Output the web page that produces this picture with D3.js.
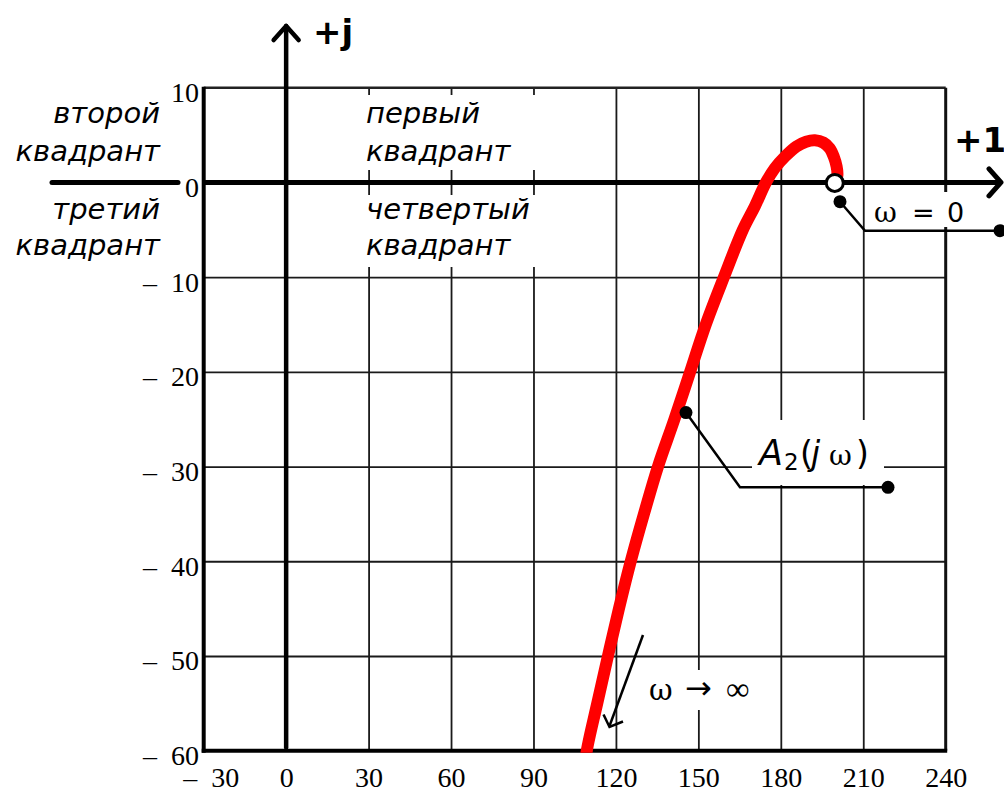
<!DOCTYPE html>
<html><head><meta charset="utf-8">
<script src="https://cdn.jsdelivr.net/npm/d3@7"></script>
<style>
body{margin:0;background:#fff;}
svg{display:block;}
</style></head><body>
<svg id="c" width="1004" height="794"></svg>
<script>
// ---- data ----
const xTicks = [-30, 0, 30, 60, 90, 120, 150, 180, 210, 240];
const xTickLabels = ["\u2013\u200230", "0", "30", "60", "90", "120", "150", "180", "210", "240"];
const yTicks = [10, 0, -10, -20, -30, -40, -50, -60];
const yTickLabels = ["10", "0", "\u2013\u200210", "\u2013\u200220", "\u2013\u200230", "\u2013\u200240", "\u2013\u200250", "\u2013\u200260"];
// hodograph A2(jw): real part, imaginary part
const curveRe = [200, 200.6, 200.3, 199.3, 197.8, 195.5, 192.4, 189.2, 185.7, 181.6, 177.8, 174.6, 170.6, 166.2, 159.3, 152.7, 147.0, 141.3, 135.3, 130.2, 125.4, 121.1, 117.1, 113.2, 109.4, 108.6];
const curveIm = [0, 0.8, 1.7, 2.7, 3.6, 4.2, 4.45, 4.3, 3.8, 2.75, 1.5, 0, -2.5, -5, -10, -15, -20, -25, -30, -35, -40, -45, -50, -55, -60, -62];
const quadLeft = [["второй", "квадрант"], ["третий", "квадрант"]];
const quadRight = [["первый", "квадрант"], ["четвертый", "квадрант"]];
const markerW0 = [200, 0];        // w = 0 point
const markerA2 = [145.5, -24.3];  // leader point on curve

// ---- layout ----
const svg = d3.select("#c");
const x = d3.scaleLinear().domain([-30, 240]).range([203.7, 945.7]);
const y = d3.scaleLinear().domain([-60, 10]).range([750.7, 87.7]);
const serif = "'Liberation Serif','Times New Roman',serif";
const sans = "'DejaVu Sans',Verdana,sans-serif";
const greek = "'DejaVu Serif','Liberation Serif',serif";

// grid via axes
const gridX = d3.axisBottom(x).tickValues(xTicks.filter(d => d > 0 && d < 240))
  .tickSize(-(y(-60) - y(10))).tickFormat("");
svg.append("g").attr("transform", `translate(0,${y(-60)})`).call(gridX)
  .call(g => g.select(".domain").remove())
  .selectAll("line").attr("stroke", "#1a1a1a").attr("stroke-width", 1.8);
const gridY = d3.axisLeft(y).tickValues(yTicks.filter(d => d < 0 && d > -60))
  .tickSize(-(x(240) - x(-30))).tickFormat("");
svg.append("g").attr("transform", `translate(${x(-30)},0)`).call(gridY)
  .call(g => g.select(".domain").remove())
  .selectAll("line").attr("stroke", "#1a1a1a").attr("stroke-width", 1.8);

// borders
svg.append("line").attr("x1", x(-30)).attr("x2", x(240)).attr("y1", y(10)).attr("y2", y(10)).attr("stroke", "#222").attr("stroke-width", 2.5);
svg.append("line").attr("x1", x(240)).attr("x2", x(240)).attr("y1", y(10)).attr("y2", y(-60)).attr("stroke", "#111").attr("stroke-width", 3);
svg.append("line").attr("x1", x(-30)).attr("x2", x(-30)).attr("y1", y(10) - 1).attr("y2", y(-60) + 2).attr("stroke", "#000").attr("stroke-width", 4);
svg.append("line").attr("x1", x(-30) - 2).attr("x2", x(240) + 1.5).attr("y1", y(-60)).attr("y2", y(-60)).attr("stroke", "#000").attr("stroke-width", 4);

// white label backgrounds
const boxes = [[360, 95, 185, 75], [360, 195, 185, 72], [752, 420, 132, 65], [868, 192, 106, 35], [645, 670, 112, 40]];
svg.selectAll("rect.bg").data(boxes).join("rect").attr("class", "bg")
  .attr("x", d => d[0]).attr("y", d => d[1]).attr("width", d => d[2]).attr("height", d => d[3]).attr("fill", "#fff");

// tick labels via axes
const axX = d3.axisBottom(x).tickValues(xTicks).tickSize(0).tickFormat((d, i) => xTickLabels[i]);
svg.append("g").attr("transform", `translate(0,${y(-60)})`).call(axX)
  .call(g => g.select(".domain").remove())
  .selectAll("text").attr("y", 36.5).attr("dy", 0)
  .attr("dx", d => d < 0 ? 7 : 0)
  .attr("font-family", serif).attr("font-size", 28).attr("fill", "#000");
const axY = d3.axisLeft(y).tickValues(yTicks).tickSize(0).tickFormat((d, i) => yTickLabels[i]);
svg.append("g").attr("transform", `translate(199,0)`).call(axY)
  .call(g => g.select(".domain").remove())
  .selectAll("text").attr("x", 0).attr("dy", 14)
  .attr("font-family", serif).attr("font-size", 28).attr("fill", "#000");

// main axes (+1 and +j)
svg.append("line").attr("x1", 52).attr("x2", 178).attr("y1", y(0)).attr("y2", y(0)).attr("stroke", "#000").attr("stroke-width", 5).attr("stroke-linecap", "round");
svg.append("line").attr("x1", x(-30)).attr("x2", 1001).attr("y1", y(0)).attr("y2", y(0)).attr("stroke", "#000").attr("stroke-width", 5);
svg.append("path").attr("d", `M989,${y(0) - 13.5}L1001,${y(0)}L989,${y(0) + 13.5}`).attr("fill", "none").attr("stroke", "#000").attr("stroke-width", 5).attr("stroke-linecap", "round").attr("stroke-linejoin", "round");
svg.append("line").attr("x1", x(0)).attr("x2", x(0)).attr("y1", y(-60) - 3).attr("y2", 26).attr("stroke", "#000").attr("stroke-width", 4.5).attr("stroke-linecap", "round");
svg.append("path").attr("d", `M${x(0) - 12.5},40L${x(0)},26L${x(0) + 12.5},40`).attr("fill", "none").attr("stroke", "#000").attr("stroke-width", 4.5).attr("stroke-linecap", "round").attr("stroke-linejoin", "round");
svg.append("text").attr("x", 313).attr("y", 44).attr("font-family", sans).attr("font-weight", "bold").attr("font-size", 34).text("+j");
svg.append("text").attr("x", 954).attr("y", 152).attr("font-family", sans).attr("font-weight", "bold").attr("font-size", 34).text("+1");

// quadrant labels
const qBase = [[123, 161], [219, 255]];
quadLeft.forEach((lines, i) => lines.forEach((t, j) =>
  svg.append("text").attr("x", 160).attr("y", qBase[i][j]).attr("text-anchor", "end")
    .attr("font-family", sans).attr("font-style", "italic").attr("font-size", 29).text(t)));
quadRight.forEach((lines, i) => lines.forEach((t, j) =>
  svg.append("text").attr("x", 366).attr("y", qBase[i][j]).attr("text-anchor", "start")
    .attr("font-family", sans).attr("font-style", "italic").attr("font-size", 29).text(t)));

// curve
svg.append("clipPath").attr("id", "clip").append("rect")
  .attr("x", x(-30)).attr("y", y(10)).attr("width", x(240) - x(-30)).attr("height", y(-60) - y(10) + 2);
const pts = curveRe.map((r, i) => [r, curveIm[i]]);
const line = d3.line().x(d => x(d[0])).y(d => y(d[1])).curve(d3.curveCatmullRom.alpha(0.5));
svg.append("path").attr("d", line(pts)).attr("clip-path", "url(#clip)")
  .attr("fill", "none").attr("stroke", "#ff0000").attr("stroke-width", 12).attr("stroke-linejoin", "round");

// w = 0 marker
svg.append("circle").attr("cx", x(markerW0[0]) - 1).attr("cy", y(markerW0[1]) + 0.5).attr("r", 8.5)
  .attr("fill", "#fff").attr("stroke", "#000").attr("stroke-width", 3);
// leader w=0
svg.append("path").attr("d", "M840,201.7L865,230.7L1000,230.7").attr("fill", "none").attr("stroke", "#000").attr("stroke-width", 2.5);
svg.append("circle").attr("cx", 840).attr("cy", 201.7).attr("r", 6.5);
svg.append("circle").attr("cx", 1000).attr("cy", 230.7).attr("r", 6.5);
const t0 = svg.append("text").attr("y", 221.5).attr("font-size", 27).attr("font-family", sans);
t0.append("tspan").attr("x", 874).attr("font-family", greek).attr("font-size", 28).text("ω");
t0.append("tspan").attr("x", 912).text("=");
t0.append("tspan").attr("x", 947).text("0");

// leader A2
svg.append("path").attr("d", `M${x(markerA2[0])},${y(markerA2[1])}L740,487.3L888,487.3`).attr("fill", "none").attr("stroke", "#000").attr("stroke-width", 2.5);
svg.append("circle").attr("cx", x(markerA2[0])).attr("cy", y(markerA2[1])).attr("r", 6.5);
svg.append("circle").attr("cx", 888).attr("cy", 487.3).attr("r", 6.5);
const ta = svg.append("text").attr("y", 465).attr("font-size", 33).attr("font-family", sans);
ta.append("tspan").attr("x", 759).attr("font-style", "italic").attr("font-size", 35).text("A");
ta.append("tspan").attr("x", 784).attr("dy", 5).attr("font-size", 23).text("2");
ta.append("tspan").attr("x", 800).attr("dy", -5).text("(");
ta.append("tspan").attr("x", 811).attr("font-style", "italic").text("j");
ta.append("tspan").attr("x", 829).attr("font-family", greek).attr("font-size", 28).text("ω");
ta.append("tspan").attr("x", 856).text(")");

// w -> inf arrow
svg.append("line").attr("x1", 643).attr("y1", 635).attr("x2", 609.5).attr("y2", 726).attr("stroke", "#000").attr("stroke-width", 2.5);
svg.append("path").attr("d", "M603.5,714.5L609.5,727L623,721.5").attr("fill", "none").attr("stroke", "#000").attr("stroke-width", 2.5).attr("stroke-linejoin", "miter");
const ti = svg.append("text").attr("y", 700).attr("font-size", 33).attr("font-family", serif);
ti.append("tspan").attr("x", 649).attr("font-family", greek).attr("font-size", 29).text("ω");
ti.append("tspan").attr("x", 685).attr("y", 699).attr("font-family", sans).attr("font-size", 32).text("→");
ti.append("tspan").attr("x", 726).attr("y", 700).text("∞");
</script>
</body></html>
